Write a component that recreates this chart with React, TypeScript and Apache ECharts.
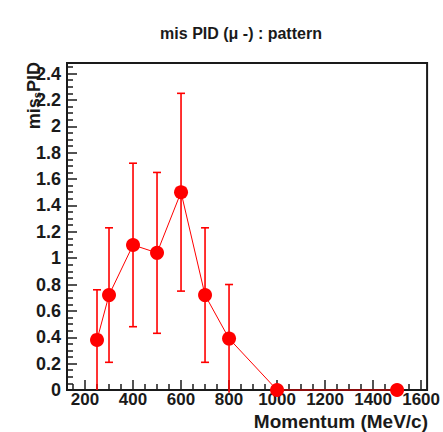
import React, { useEffect, useRef } from "react";
import * as echarts from "echarts";

const momentum = [250, 300, 400, 500, 600, 700, 800, 1000, 1500];
const misPid = [0.38, 0.72, 1.1, 1.04, 1.5, 0.72, 0.39, 0, 0];
const misPidErr = [0.38, 0.51, 0.62, 0.61, 0.75, 0.51, 0.41, 0, 0];

const xTickLabels = [200, 400, 600, 800, 1000, 1200, 1400, 1600];
const yTickLabels = [0, 0.2, 0.4, 0.6, 0.8, 1, 1.2, 1.4, 1.6, 1.8, 2, 2.2, 2.4];

const X_MIN = 125;
const X_MAX = 1625;
const Y_MIN = 0;
const Y_MAX = 2.48;

const FONT = "'Liberation Sans', Arial, Helvetica, sans-serif";
const INK = "#1a1a1a";
const RED = "#ff0000";

function minorValues(min: number, max: number, step: number, majors: number[]) {
  const out: number[] = [];
  const n = Math.floor((max - min) / step);
  const start = Math.ceil(min / step);
  for (let i = start; i <= start + n; i++) {
    const v = +(i * step).toFixed(4);
    if (v < min || v > max) continue;
    if (majors.some((m) => Math.abs(m - v) < 1e-6)) continue;
    out.push(v);
  }
  return out;
}

export default function App() {
  const ref = useRef<HTMLDivElement>(null);

  useEffect(() => {
    document.body.style.margin = "0";
    if (!ref.current) return;
    const chart = echarts.init(ref.current, undefined, { renderer: "svg" });

    const xMinor = minorValues(X_MIN, X_MAX, 50, xTickLabels);
    const yMinor = minorValues(Y_MIN, Y_MAX, 0.05, yTickLabels);

    const pts = momentum.map((m, i) => [m, misPid[i]]);
    const errs = momentum.map((m, i) => [m, misPid[i], misPid[i] - misPidErr[i], misPid[i] + misPidErr[i]]);

    const baseX = {
      type: "value",
      min: X_MIN,
      max: X_MAX,
      gridIndex: 0,
      position: "bottom",
      splitLine: { show: false },
    };
    const baseY = {
      type: "value",
      min: Y_MIN,
      max: Y_MAX,
      gridIndex: 0,
      position: "left",
      splitLine: { show: false },
    };

    chart.setOption({
      animation: false,
      backgroundColor: "#ffffff",
      grid: {
        left: 67,
        right: 15,
        top: 63,
        bottom: 42,
        show: true,
        borderColor: INK,
        borderWidth: 2,
        backgroundColor: "transparent",
      },
      xAxis: [
        {
          ...baseX,
          axisLine: { show: true, lineStyle: { color: INK, width: 2 } },
          axisTick: {
            show: true,
            inside: true,
            length: 10,
            customValues: xTickLabels,
            lineStyle: { color: INK, width: 1.5 },
          },
          axisLabel: {
            show: true,
            customValues: xTickLabels,
            formatter: (v: number) => String(v),
            margin: 1,
            lineHeight: 17,
            color: INK,
            fontFamily: FONT,
            fontWeight: "bold",
            fontSize: 17,
          },
        },
        {
          ...baseX,
          axisLine: { show: false },
          axisTick: {
            show: true,
            inside: true,
            length: 6,
            customValues: xMinor,
            lineStyle: { color: INK, width: 1.5 },
          },
          axisLabel: { show: false },
        },
      ],
      yAxis: [
        {
          ...baseY,
          axisLine: { show: true, lineStyle: { color: INK, width: 2 } },
          axisTick: {
            show: true,
            inside: true,
            length: 10,
            customValues: yTickLabels,
            lineStyle: { color: INK, width: 1.5 },
          },
          axisLabel: {
            show: true,
            customValues: yTickLabels,
            formatter: (v: number) => String(v),
            margin: 6,
            color: INK,
            fontFamily: FONT,
            fontWeight: "bold",
            fontSize: 18,
          },
        },
        {
          ...baseY,
          axisLine: { show: false },
          axisTick: {
            show: true,
            inside: true,
            length: 6,
            customValues: yMinor,
            lineStyle: { color: INK, width: 1.5 },
          },
          axisLabel: { show: false },
        },
      ],
      graphic: [
        {
          type: "text",
          x: 241,
          y: 33,
          style: {
            text: "mis PID (\u03bc -) : pattern",
            font: `bold 16px ${FONT}`,
            fill: INK,
            align: "center",
            verticalAlign: "middle",
          },
        },
        {
          type: "text",
          x: 428,
          y: 421,
          style: {
            text: "Momentum (MeV/c)",
            font: `bold 19px ${FONT}`,
            fill: INK,
            align: "right",
            verticalAlign: "middle",
          },
        },
        {
          type: "text",
          x: 43,
          y: 62,
          rotation: Math.PI / 2,
          style: {
            text: "{a|mis}{s|s}{a|PID}",
            align: "right",
            verticalAlign: "bottom",
            rich: {
              a: { font: `bold 18px ${FONT}`, fill: INK, fontSize: 18, fontWeight: "bold", fontFamily: FONT },
              s: { font: `bold 11px ${FONT}`, fill: INK, fontSize: 11, fontWeight: "bold", fontFamily: FONT, padding: [6, 0, 0, 0] },
            },
          },
        },
      ],
      series: [
        {
          type: "custom",
          xAxisIndex: 0,
          yAxisIndex: 0,
          clip: false,
          z: 3,
          data: errs,
          renderItem: (params: any, api: any) => {
            const x = api.value(0);
            const lo = api.value(2);
            const hi = api.value(3);
            if (hi - lo <= 0) return null;
            const pHi = api.coord([x, hi]);
            const pLo = api.coord([x, lo]);
            const hw = 4;
            const style = { stroke: RED, lineWidth: 1.6 };
            const children: any[] = [
              { type: "line", shape: { x1: pHi[0], y1: pHi[1], x2: pLo[0], y2: pLo[1] }, style },
              { type: "line", shape: { x1: pHi[0] - hw, y1: pHi[1], x2: pHi[0] + hw, y2: pHi[1] }, style },
            ];
            if (lo > 0) {
              children.push({ type: "line", shape: { x1: pLo[0] - hw, y1: pLo[1], x2: pLo[0] + hw, y2: pLo[1] }, style });
            }
            return { type: "group", children };
          },
        },
        {
          type: "line",
          xAxisIndex: 0,
          yAxisIndex: 0,
          data: pts,
          clip: false,
          z: 4,
          symbol: "circle",
          symbolSize: 14,
          itemStyle: { color: RED },
          lineStyle: { color: RED, width: 1 },
        },
      ],
    });

    return () => chart.dispose();
  }, []);

  return <div ref={ref} style={{ width: 443, height: 432 }} />;
}
